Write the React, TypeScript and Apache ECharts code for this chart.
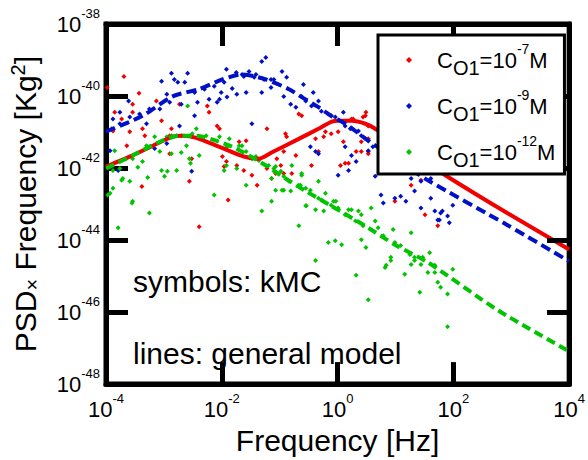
import React, { useEffect, useRef } from 'react';
import * as echarts from 'echarts';

// axes are in log10 units: x = log10(Frequency / Hz), y = log10(PSD x Frequency / Kg^2)
const xTicks = [-4, -2, 0, 2, 4];
const yTicks = [-48, -46, -44, -42, -40, -38];
const seriesNames = ['CO1=10-7M', 'CO1=10-9M', 'CO1=10-12M'];
const legendExponents = ['-7', '-9', '-12'];
const seriesColors = ['#f20000', '#0010c8', '#00c400'];
const annotationTexts = ['symbols: kMC', 'lines: general model'];

// kMC symbols  [log10 f, log10 PSD*f]
const kmcRed = [
  [-3.98, -39.76], [-3.69, -39.46], [-3.43, -39.92], [-3.85, -40.45], [-3.54, -40.23], [-3.54, -40.45],
  [-3.73, -40.64], [-3.88, -40.97], [-3.59, -40.99], [-3.37, -40.91], [-3.33, -41.10], [-3.64, -41.38],
  [-3.04, -40.69], [-2.87, -40.91], [-2.90, -41.10], [-2.73, -40.23], [-2.22, -40.45], [-2.25, -40.28],
  [-2.08, -40.83], [-2.04, -40.91], [-1.70, -41.27], [-1.58, -41.24], [-1.22, -40.91], [-3.13, -40.14],
  [-1.92, -41.82], [-1.99, -41.68], [-1.74, -41.93], [-1.96, -41.96], [-1.48, -42.20], [-1.05, -41.74],
  [-0.98, -41.93], [-0.72, -41.65], [-0.90, -41.05], [-0.67, -40.50], [-0.62, -40.55], [-0.38, -41.19],
  [-0.21, -40.99], [0.01, -40.99], [0.05, -41.93], [0.13, -41.87], [0.24, -40.64], [0.48, -40.55],
  [0.53, -41.54], [0.41, -41.54], [-2.56, -42.37], [-3.38, -42.51], [-1.89, -42.89], [-1.22, -42.01],
  [-0.11, -41.05], [-2.52, -41.74], [-2.39, -43.63], [-1.62, -42.07], [-1.39, -42.48], [-1.14, -42.29],
  [-2.90, -41.60], [-0.45, -41.93], [0.19, -41.87], [-0.79, -42.15], [-0.93, -42.15], [-1.07, -42.15],
  [0.53, -41.60], [1.27, -42.48], [1.44, -42.34], [0.99, -42.92], [1.51, -43.30], [1.73, -43.60],
  [-0.88, -41.13], [-0.24, -41.13], [0.10, -41.27], [-0.93, -41.54], [-0.33, -41.54], [0.41, -41.27],
  [0.53, -41.19], [0.44, -40.58], [0.49, -40.45], [0.27, -40.64], [0.32, -41.54], [0.53, -40.83],
];
const kmcBlue = [
  [-1.24, -38.93], [-1.31, -39.04], [-1.92, -39.26], [-1.75, -39.35], [-1.65, -39.40], [-1.53, -39.32],
  [-1.41, -39.40], [-1.15, -39.54], [-2.59, -39.37], [-2.87, -39.37], [-2.82, -39.54], [-2.76, -39.62],
  [-3.04, -39.59], [-2.64, -39.62], [-1.82, -39.79], [-2.01, -39.90], [-1.91, -40.03], [-1.74, -39.95],
  [-1.58, -39.90], [-1.31, -39.90], [-2.04, -40.09], [-2.22, -40.09], [-2.08, -40.17], [-2.42, -40.17],
  [-2.70, -40.23], [-2.95, -39.95], [-3.61, -40.14], [-3.76, -40.45], [-3.88, -40.64], [-3.90, -40.91],
  [-3.25, -40.36], [-3.07, -40.36], [-2.47, -40.55], [-1.48, -40.77], [-2.73, -40.83], [-3.30, -40.77],
  [-3.93, -41.52], [-3.76, -40.77], [-3.59, -40.58], [-3.42, -40.50], [-2.90, -40.17], [-2.47, -39.90],
  [-2.30, -39.81], [-2.13, -39.73], [-1.96, -39.62], [-1.62, -39.46], [-1.44, -39.48], [-1.27, -39.54],
  [-0.96, -39.32], [-1.10, -39.54], [-1.15, -39.76], [-0.88, -39.48], [-0.93, -40.01], [-0.59, -39.68],
  [-0.42, -39.90], [-0.33, -40.14], [-0.62, -40.01], [-0.55, -40.14], [-0.81, -40.23], [-0.72, -40.31],
  [-0.45, -40.28], [-0.28, -40.42], [-0.11, -40.55], [-0.04, -40.58], [0.10, -40.45], [0.13, -40.83],
  [0.22, -40.91], [0.36, -40.97], [0.41, -41.10], [0.48, -41.19], [0.53, -41.24], [-0.47, -41.41],
  [-0.33, -41.60], [0.13, -41.41], [0.24, -41.65], [0.53, -41.52], [0.61, -41.41], [-0.38, -41.54],
  [0.32, -41.82], [0.01, -42.20], [0.19, -42.07], [0.65, -42.23], [0.75, -42.75], [0.79, -42.97],
  [0.99, -42.84], [1.09, -42.78], [1.18, -42.92], [1.27, -42.29], [1.33, -42.64], [1.44, -42.37],
  [1.61, -42.29], [1.44, -43.11], [1.68, -43.19], [1.61, -42.84], [1.73, -43.44], [1.78, -43.25],
  [1.90, -43.33], [1.81, -43.19], [1.76, -43.44], [1.93, -43.52], [1.99, -43.03], [-2.52, -42.09],
  [-3.79, -42.07], [-3.16, -41.46], [-2.95, -41.32],
];
const kmcGreen = [
  [-2.59, -40.28], [-2.44, -40.91], [-2.70, -41.10], [-2.87, -41.10], [-3.16, -41.13], [-2.61, -41.38],
  [-2.87, -41.60], [-3.07, -41.54], [-2.39, -41.65], [-2.04, -41.13], [-1.87, -41.19], [-1.91, -41.41],
  [-1.65, -41.38], [-1.58, -41.54], [-1.41, -41.68], [-3.85, -41.52], [-3.37, -41.82], [-3.59, -42.37],
  [-3.71, -42.29], [-3.88, -42.56], [-3.97, -42.75], [-3.54, -42.92], [-3.25, -43.25], [-2.78, -42.07],
  [-2.94, -42.09], [-2.56, -41.74], [-1.96, -42.07], [-1.92, -41.93], [-1.58, -42.48], [-1.31, -43.19],
  [-2.13, -42.75], [-1.14, -42.29], [-0.93, -42.62], [-0.98, -42.09], [-0.81, -42.64], [-0.62, -42.20],
  [-0.21, -42.70], [-0.07, -42.92], [0.01, -43.11], [0.19, -43.16], [0.36, -43.19], [-0.54, -43.05],
  [-0.33, -42.84], [-0.38, -43.16], [-0.67, -42.48], [-3.76, -42.01], [-3.54, -41.74], [-3.30, -41.38],
  [-2.95, -41.13], [-2.78, -41.10], [-2.51, -41.05], [-2.27, -41.10], [-1.70, -41.38], [-1.48, -41.74],
  [-1.36, -41.79], [-3.88, -42.07], [-3.73, -42.34], [-3.45, -41.98], [-3.28, -42.26], [-3.04, -42.07],
  [-2.99, -42.23], [-2.70, -41.57], [-2.54, -41.87], [-3.93, -42.70], [-3.55, -42.97], [-3.79, -43.66],
  [-1.74, -42.01], [-1.14, -42.92], [-1.07, -42.62], [-1.19, -41.93], [-1.10, -42.01], [-1.07, -41.96],
  [-0.93, -42.23], [-0.84, -42.37], [-0.79, -41.93], [-0.62, -42.15], [-0.96, -42.62], [-0.64, -42.48],
  [-0.55, -42.56], [-0.47, -42.62], [-0.33, -42.37], [-0.28, -42.89], [-0.55, -43.05], [-0.24, -43.19],
  [-0.11, -43.03], [-0.03, -42.92], [0.24, -43.16], [0.13, -43.30], [0.31, -43.47], [0.41, -43.30],
  [0.58, -43.11], [0.65, -43.47], [0.44, -43.60], [0.70, -43.66], [0.79, -43.88], [0.96, -43.71],
  [0.99, -44.07], [1.09, -44.15], [1.27, -43.80], [1.25, -44.40], [1.33, -44.48], [1.47, -44.48],
  [1.59, -44.35], [-0.16, -44.07], [0.07, -44.13], [0.49, -44.21], [-0.67, -43.60], [-0.38, -44.57],
  [0.84, -44.70], [1.27, -44.68], [1.44, -44.68], [1.68, -44.70], [0.32, -44.98], [0.53, -45.66],
  [0.82, -44.76], [0.92, -44.57], [1.16, -44.95], [1.33, -44.57], [1.42, -45.45], [1.56, -44.90],
  [1.73, -45.17], [1.78, -45.31], [1.90, -45.50], [1.99, -44.81], [1.90, -46.41], [1.68, -44.90],
  [-0.04, -44.02], [0.41, -43.99], [0.92, -44.48],
];

// general model curves
const redModelLogF = [-4.0, -3.54, -3.19, -2.85, -2.68, -2.44, -2.03, -1.62, -1.36, -1.14, -0.67, -0.33, -0.11, 0.01, 0.24, 0.48, 0.65, 1.04, 1.95, 2.93, 4.0];
const redModelLogPsd = [-41.96, -41.65, -41.38, -41.13, -41.10, -41.16, -41.42, -41.68, -41.74, -41.57, -41.19, -40.91, -40.72, -40.69, -40.69, -40.77, -40.91, -41.35, -42.29, -43.25, -44.26];
const blueModelLogF = [-4.0, -3.88, -3.37, -2.85, -2.39, -1.99, -1.65, -1.24, -0.84, -0.62, -0.33, -0.11, 0.19, 0.53, 1.04, 1.56, 2.93, 4.0];
const blueModelLogPsd = [-40.99, -40.91, -40.55, -40.01, -39.81, -39.54, -39.40, -39.54, -39.81, -40.03, -40.31, -40.55, -40.83, -41.24, -41.79, -42.34, -43.58, -44.59];
const greenModelLogF = [-4.0, -3.93, -3.54, -3.07, -2.73, -2.44, -2.10, -1.82, -1.53, -1.24, -0.90, -0.55, -0.11, 0.53, 0.99, 1.56, 2.76, 4.0];
const greenModelLogPsd = [-42.01, -41.96, -41.65, -41.27, -41.10, -41.10, -41.24, -41.41, -41.65, -41.93, -42.29, -42.64, -43.05, -43.66, -44.13, -44.62, -45.94, -47.09];

const FONT = '"Liberation Sans", Arial, Helvetica, sans-serif';

const zip = (xs: number[], ys: number[]) => xs.map((x, i) => [x, ys[i]]);

const makeTickRich = () => ({
  b: { fontSize: 22, lineHeight: 34, verticalAlign: 'middle', fontFamily: FONT, color: '#000' },
  s: { fontSize: 13, lineHeight: 14, verticalAlign: 'top', fontFamily: FONT, color: '#000' },
});

const makeTick = () => ({ show: true, inside: true, length: 22, lineStyle: { color: '#000', width: 5 } });
const makeLine = () => ({ show: true, onZero: false, lineStyle: { color: '#000', width: 5 } });

export default function App() {
  const ref = useRef<HTMLDivElement>(null);
  useEffect(() => {
    if (!ref.current) return;
    const chart = echarts.init(ref.current, undefined, { renderer: 'svg' });
    const scatterData = [kmcRed, kmcBlue, kmcGreen];
    const models = [
      { data: zip(redModelLogF, redModelLogPsd), type: 'solid' },
      { data: zip(blueModelLogF, blueModelLogPsd), type: [10, 5] },
      { data: zip(greenModelLogF, greenModelLogPsd), type: [9, 5] },
    ];
    // right-hand frame ticks (mirror of the left axis ticks), 22 px long = 22 / 58.2 decades
    const xMax = xTicks[xTicks.length - 1];
    const rightTickLen = 22 / ((571 - 106) / (xMax - xTicks[0]));
    const rightTicks = yTicks.slice(1, -1).map((y) => [{ coord: [xMax, y] }, { coord: [xMax - rightTickLen, y] }]);
    const option: any = {
      animation: false,
      backgroundColor: '#fff',
      grid: { left: 106, right: 17, top: 24, bottom: 72, show: true, borderColor: '#000', borderWidth: 5 },
      xAxis: [
        {
          type: 'value',
          min: -4,
          max: 4,
          interval: 2,
          position: 'bottom',
          splitLine: { show: false },
          axisLine: makeLine(),
          axisTick: makeTick(),
          name: 'Frequency [Hz]',
          nameLocation: 'middle',
          nameGap: 40,
          nameTextStyle: { fontSize: 30, fontFamily: FONT, color: '#000' },
          axisLabel: {
            show: true,
            margin: 8,
            formatter: (v: number) => (xTicks.includes(v) ? `{b|10}{s|${v}}` : ''),
            rich: makeTickRich(),
          },
        },
        {
          type: 'value',
          min: -4,
          max: 4,
          interval: 2,
          position: 'top',
          splitLine: { show: false },
          axisLine: makeLine(),
          axisTick: makeTick(),
          axisLabel: { show: false },
        },
      ],
      yAxis: [
        {
          type: 'value',
          min: -48,
          max: -38,
          interval: 2,
          position: 'left',
          splitLine: { show: false },
          axisLine: makeLine(),
          axisTick: makeTick(),
          name: '{a|PSD}{x|×}{a| Frequency [Kg}{s|2}{a|]}',
          nameLocation: 'middle',
          nameRotate: 90,
          nameGap: 64,
          nameTextStyle: {
            fontFamily: FONT,
            color: '#000',
            rich: {
              a: { fontSize: 30, lineHeight: 34, verticalAlign: 'middle', fontFamily: FONT, color: '#000' },
              x: { fontSize: 20, lineHeight: 16, verticalAlign: 'bottom', fontFamily: FONT, color: '#000' },
              s: { fontSize: 20, lineHeight: 20, verticalAlign: 'top', fontFamily: FONT, color: '#000' },
            },
          },
          axisLabel: {
            show: true,
            margin: 6,
            formatter: (v: number) => (yTicks.includes(v) ? `{b|10}{s|${v}}` : ''),
            rich: makeTickRich(),
          },
        },
        {
          type: 'value',
          min: -48,
          max: -38,
          interval: 2,
          position: 'right',
          splitLine: { show: false },
          axisLine: makeLine(),
          axisTick: makeTick(),
          axisLabel: { show: false },
        },
      ],
      legend: {
        data: seriesNames,
        orient: 'vertical',
        left: 378,
        top: 35,
        padding: [7, 9, 4, 28],
        itemGap: 10,
        itemWidth: 6,
        itemHeight: 6,
        icon: 'diamond',
        symbolKeepAspect: true,
        selectedMode: false,
        backgroundColor: '#fff',
        borderColor: '#000',
        borderWidth: 3,
        borderRadius: 0,
        z: 10,
        formatter: (name: string) => {
          const exp = legendExponents[seriesNames.indexOf(name)];
          return `{c|C}{sub|O1}{c|=10}{sup|${exp}}{c|M}`;
        },
        textStyle: {
          color: '#000',
          fontFamily: FONT,
          padding: [0, 0, 0, 20],
          rich: {
            c: { fontSize: 22, lineHeight: 36, verticalAlign: 'middle', fontFamily: FONT, color: '#000' },
            sub: { fontSize: 20, lineHeight: 14, verticalAlign: 'bottom', fontFamily: FONT, color: '#000' },
            sup: { fontSize: 14, lineHeight: 25, verticalAlign: 'top', fontFamily: FONT, color: '#000' },
          },
        },
      },
      graphic: [
        { type: 'text', x: 133, y: 281, z: 100, style: { text: annotationTexts[0], fontSize: 30, fontFamily: FONT, fill: '#000', verticalAlign: 'middle' } },
        { type: 'text', x: 133, y: 353, z: 100, style: { text: annotationTexts[1], fontSize: 30, fontFamily: FONT, fill: '#000', verticalAlign: 'middle' } },
      ],
      series: [
        ...scatterData.map((d, i) => ({
          name: seriesNames[i],
          type: 'scatter',
          xAxisIndex: 0,
          yAxisIndex: 0,
          data: d,
          symbol: 'diamond',
          symbolSize: 5,
          itemStyle: { color: seriesColors[i], opacity: 1 },
          z: 2,
        })),
        ...models.map((m, i) => ({
          name: 'model ' + seriesNames[i],
          type: 'line',
          xAxisIndex: 0,
          yAxisIndex: 0,
          data: m.data,
          showSymbol: false,
          smooth: 0.25,
          lineStyle: { color: seriesColors[i], width: 4, type: m.type },
          z: 3,
        })),
        {
          name: 'frame ticks',
          type: 'line',
          xAxisIndex: 0,
          yAxisIndex: 0,
          data: [],
          silent: true,
          z: 4,
          markLine: {
            silent: true,
            symbol: ['none', 'none'],
            label: { show: false },
            emphasis: { disabled: true },
            lineStyle: { color: '#000', width: 5, type: 'solid' },
            data: rightTicks,
          },
        },
      ],
    };
    chart.setOption(option);
    return () => chart.dispose();
  }, []);
  return <div ref={ref} style={{ position: 'fixed', left: 0, top: 0, width: 588, height: 460, background: '#fff' }} />;
}
